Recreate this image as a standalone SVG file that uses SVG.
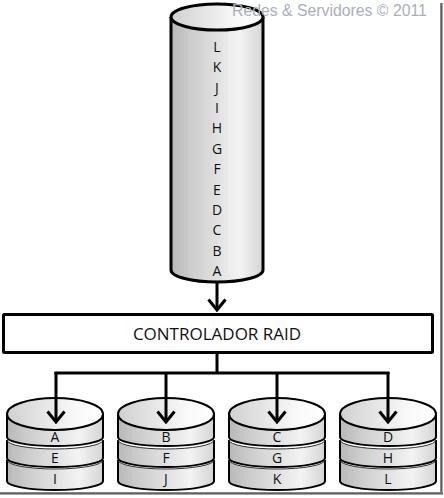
<svg xmlns="http://www.w3.org/2000/svg" width="444" height="498" viewBox="0 0 444 498">
<defs>
<linearGradient id="gBody" x1="0" y1="0" x2="1" y2="0">
<stop offset="0" stop-color="#b8b8b8"/>
<stop offset="0.2" stop-color="#cbcbcb"/>
<stop offset="0.75" stop-color="#f3f3f3"/>
<stop offset="1" stop-color="#d4d4d4"/>
</linearGradient>
<linearGradient id="gTop" x1="0" y1="0" x2="1" y2="0">
<stop offset="0" stop-color="#d0d0d0"/>
<stop offset="0.7" stop-color="#f8f8f8"/>
<stop offset="1" stop-color="#ffffff"/>
</linearGradient>
<linearGradient id="gShadowV" x1="0" y1="0" x2="1" y2="0">
<stop offset="0" stop-color="#9a9a9a"/>
<stop offset="0.5" stop-color="#606060"/>
<stop offset="1" stop-color="#c8c8c8"/>
</linearGradient>
<linearGradient id="gShadowH" x1="0" y1="0" x2="0" y2="1">
<stop offset="0" stop-color="#9a9a9a"/>
<stop offset="0.5" stop-color="#606060"/>
<stop offset="1" stop-color="#c8c8c8"/>
</linearGradient>
<marker id="arr" viewBox="-14 -12 16 24" markerWidth="16" markerHeight="24" refX="0" refY="0" orient="auto" markerUnits="userSpaceOnUse">
<path d="M-10.5,-8.5 L0,0 L-10.5,8.5" fill="none" stroke="#000" stroke-width="3" stroke-linejoin="miter"/>
</marker>
</defs>
<style>
.lbl{font-family:"Open Sans","Liberation Sans",sans-serif;font-size:14px;fill:#111;text-anchor:middle}
.ctl{font-family:"Open Sans","Liberation Sans",sans-serif;font-size:17px;fill:#111;text-anchor:middle}
.edge{fill:none;stroke:#000;stroke-width:2}
.thin{fill:none;stroke:#333;stroke-width:1}
.body{fill:url(#gBody)}
.top{fill:url(#gTop);stroke:#000;stroke-width:2}
.conn{fill:none;stroke:#000;stroke-width:3}
</style>
<rect x="0" y="0" width="444" height="498" fill="#fff"/>
<!-- frame shadow -->
<rect x="440" y="3" width="3" height="492" fill="url(#gShadowV)"/>
<rect x="0" y="492" width="443" height="3" fill="url(#gShadowH)"/>

<g id="volume">
<path d="M171,17 V270 A46,12 0 0 0 263,270 V17 Z" fill="url(#gBody)"/>
<path d="M171,17 V270 A46,12 0 0 0 263,270 V17" fill="none" stroke="#000" stroke-width="3"/>
<ellipse cx="217" cy="17" rx="46" ry="13" fill="url(#gTop)" stroke="#000" stroke-width="3"/>
<text class="lbl" x="217" y="52">L</text>
<text class="lbl" x="217" y="72.4">K</text>
<text class="lbl" x="217" y="92.7">J</text>
<text class="lbl" x="217" y="113.1">I</text>
<text class="lbl" x="217" y="133.4">H</text>
<text class="lbl" x="217" y="153.8">G</text>
<text class="lbl" x="217" y="174.2">F</text>
<text class="lbl" x="217" y="194.5">E</text>
<text class="lbl" x="217" y="214.9">D</text>
<text class="lbl" x="217" y="235.2">C</text>
<text class="lbl" x="217" y="255.6">B</text>
<text class="lbl" x="217" y="276">A</text>
</g>

<g id="controller">
<rect x="3.5" y="314.5" width="429" height="38" fill="#fff" stroke="#000" stroke-width="3" rx="1"/>
<text class="ctl" x="217" y="339.5">CONTROLADOR RAID</text>
</g>

<g id="disk1">
<path class="body" d="M7,460 A48,9 0 0 0 103,460 V481 A48,9 0 0 1 7,481 Z"/>
<path class="edge" d="M7,460 V481 A48,9 0 0 0 103,481 V460"/>
<path class="thin" d="M7,460 A48,9 0 0 0 103,460"/>
<path class="body" d="M7,440 A48,9 0 0 0 103,440 V458 A48,9 0 0 1 7,458 Z"/>
<path class="edge" d="M7,440 V458 A48,9 0 0 0 103,458 V440"/>
<path class="thin" d="M7,440 A48,9 0 0 0 103,440"/>
<path class="body" d="M7,414 V437 A48,9 0 0 0 103,437 V414 Z"/>
<path class="edge" d="M7,414 V437 A48,9 0 0 0 103,437 V414"/>
<ellipse class="top" cx="55" cy="414" rx="48" ry="16"/>
<text class="lbl" x="55" y="442">A</text>
<text class="lbl" x="55" y="463">E</text>
<text class="lbl" x="55" y="483.5">I</text>
</g>

<g id="disk2">
<path class="body" d="M118,460 A48,9 0 0 0 214,460 V481 A48,9 0 0 1 118,481 Z"/>
<path class="edge" d="M118,460 V481 A48,9 0 0 0 214,481 V460"/>
<path class="thin" d="M118,460 A48,9 0 0 0 214,460"/>
<path class="body" d="M118,440 A48,9 0 0 0 214,440 V458 A48,9 0 0 1 118,458 Z"/>
<path class="edge" d="M118,440 V458 A48,9 0 0 0 214,458 V440"/>
<path class="thin" d="M118,440 A48,9 0 0 0 214,440"/>
<path class="body" d="M118,414 V437 A48,9 0 0 0 214,437 V414 Z"/>
<path class="edge" d="M118,414 V437 A48,9 0 0 0 214,437 V414"/>
<ellipse class="top" cx="166" cy="414" rx="48" ry="16"/>
<text class="lbl" x="166" y="442">B</text>
<text class="lbl" x="166" y="463">F</text>
<text class="lbl" x="166" y="483.5">J</text>
</g>

<g id="disk3">
<path class="body" d="M229,460 A48,9 0 0 0 325,460 V481 A48,9 0 0 1 229,481 Z"/>
<path class="edge" d="M229,460 V481 A48,9 0 0 0 325,481 V460"/>
<path class="thin" d="M229,460 A48,9 0 0 0 325,460"/>
<path class="body" d="M229,440 A48,9 0 0 0 325,440 V458 A48,9 0 0 1 229,458 Z"/>
<path class="edge" d="M229,440 V458 A48,9 0 0 0 325,458 V440"/>
<path class="thin" d="M229,440 A48,9 0 0 0 325,440"/>
<path class="body" d="M229,414 V437 A48,9 0 0 0 325,437 V414 Z"/>
<path class="edge" d="M229,414 V437 A48,9 0 0 0 325,437 V414"/>
<ellipse class="top" cx="277" cy="414" rx="48" ry="16"/>
<text class="lbl" x="277" y="442">C</text>
<text class="lbl" x="277" y="463">G</text>
<text class="lbl" x="277" y="483.5">K</text>
</g>

<g id="disk4">
<path class="body" d="M340,460 A48,9 0 0 0 436,460 V481 A48,9 0 0 1 340,481 Z"/>
<path class="edge" d="M340,460 V481 A48,9 0 0 0 436,481 V460"/>
<path class="thin" d="M340,460 A48,9 0 0 0 436,460"/>
<path class="body" d="M340,440 A48,9 0 0 0 436,440 V458 A48,9 0 0 1 340,458 Z"/>
<path class="edge" d="M340,440 V458 A48,9 0 0 0 436,458 V440"/>
<path class="thin" d="M340,440 A48,9 0 0 0 436,440"/>
<path class="body" d="M340,414 V437 A48,9 0 0 0 436,437 V414 Z"/>
<path class="edge" d="M340,414 V437 A48,9 0 0 0 436,437 V414"/>
<ellipse class="top" cx="388" cy="414" rx="48" ry="16"/>
<text class="lbl" x="388" y="442">D</text>
<text class="lbl" x="388" y="463">H</text>
<text class="lbl" x="388" y="483.5">L</text>
</g>

<g id="connectors">
<path class="conn" d="M217,283 V310" marker-end="url(#arr)"/>
<path class="conn" d="M217,353 V373"/>
<path class="conn" d="M56,373 H388" stroke-linecap="square"/>
<path class="conn" d="M56,372 V422" marker-end="url(#arr)"/>
<path class="conn" d="M166,372 V422" marker-end="url(#arr)"/>
<path class="conn" d="M277,372 V422" marker-end="url(#arr)"/>
<path class="conn" d="M388,372 V422" marker-end="url(#arr)"/>
</g>

<text x="232" y="15.5" font-family="'Liberation Sans',Arial,sans-serif" font-size="15.8" fill="#a9afb9">Redes &amp; Servidores © 2011</text>
</svg>
